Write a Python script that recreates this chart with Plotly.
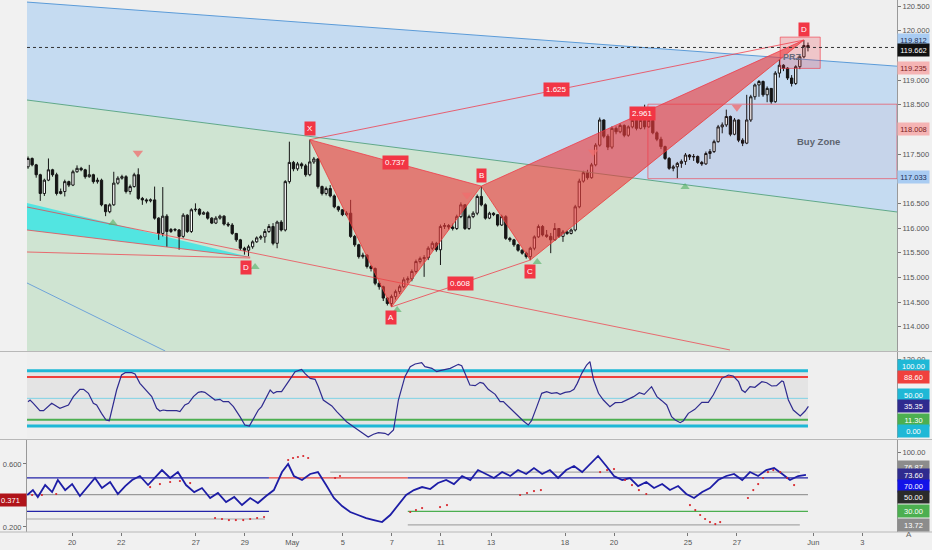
import plotly.graph_objects as go

# ---------------- price data (4h bars) ----------------
first_open = 117.24
close = [117.41,117.28,117.08,116.70,116.97,117.18,117.08,116.70,116.74,116.94,
         116.87,117.14,117.21,117.18,117.04,117.08,116.94,116.97,116.47,116.33,
         116.47,116.91,117.01,117.04,116.74,116.84,117.08,116.60,116.57,116.55,
         116.57,116.20,115.89,116.24,115.93,115.97,115.96,115.83,116.26,115.93,
         116.37,116.38,116.28,116.31,116.20,116.10,116.20,116.24,116.08,116.06,
         115.89,115.76,115.59,115.55,115.62,115.72,115.80,115.82,115.93,116.03,
         115.69,116.12,115.96,116.94,117.33,117.20,117.30,117.26,117.08,117.34,
         117.40,116.84,116.70,116.80,116.65,116.43,116.37,116.27,116.30,115.83,
         115.66,115.42,115.45,115.22,115.18,114.88,114.81,114.58,114.47,114.61,
         114.71,114.81,114.95,114.97,115.12,115.32,115.38,115.40,115.59,115.69,
         115.56,116.03,116.05,116.02,115.99,116.23,116.47,115.99,116.23,116.30,
         116.64,116.47,116.20,116.30,116.27,116.06,116.23,115.79,115.76,115.66,
         115.55,115.49,115.42,115.59,115.82,116.03,115.86,115.83,115.76,115.99,
         115.83,115.92,115.89,115.96,116.43,116.95,117.12,117.02,117.28,117.68,
         118.19,117.86,117.64,118.02,117.95,118.08,117.88,118.05,118.18,118.02,
         118.18,118.05,118.18,117.93,117.80,117.65,117.41,117.21,117.24,117.31,
         117.35,117.48,117.44,117.45,117.33,117.30,117.51,117.55,117.75,118.05,
         118.09,118.26,117.90,118.19,117.78,117.72,118.19,118.66,118.90,118.97,
         118.70,118.83,118.56,119.14,119.30,119.24,119.04,118.93,119.27,119.47,
         119.70,119.66]
high = [117.45,117.43,117.30,117.10,117.00,117.41,117.20,117.12,116.80,116.98,
        116.96,117.18,117.27,117.24,117.20,117.28,117.10,117.02,117.00,116.48,
        116.50,117.14,117.05,117.08,117.07,116.88,117.12,117.21,116.63,116.60,
        116.60,116.84,116.22,116.83,116.28,116.00,116.00,115.98,116.30,116.28,
        116.40,116.50,116.40,116.34,116.34,116.22,116.24,116.27,116.26,116.12,
        116.10,115.90,115.78,115.62,115.66,115.75,115.83,115.86,115.98,116.08,
        116.10,116.15,116.16,116.97,117.75,117.36,117.34,117.33,117.30,117.79,
        117.44,117.42,116.86,116.84,116.87,116.68,116.45,116.38,116.34,116.57,
        115.86,115.68,115.50,115.47,115.25,115.20,114.92,114.83,114.60,114.65,
        114.75,114.85,115.00,115.02,115.16,115.36,115.42,115.45,115.63,115.73,
        115.72,116.07,116.10,116.08,116.09,116.27,116.52,116.48,116.27,116.34,
        116.68,116.85,116.50,116.33,116.32,116.28,116.27,116.26,115.82,115.78,
        115.68,115.57,115.52,115.62,115.85,116.07,116.06,115.96,115.90,116.10,
        116.00,115.96,115.95,115.99,116.47,117.00,117.16,117.18,117.32,117.72,
        118.24,118.20,117.90,118.06,118.06,118.12,118.10,118.08,118.22,118.20,
        118.24,118.50,118.22,118.20,117.96,117.85,117.67,117.44,117.28,117.34,
        117.39,117.52,117.50,117.50,117.47,117.36,117.55,117.60,117.79,118.09,
        118.14,118.40,118.28,118.23,118.20,117.82,118.70,118.70,118.93,119.00,
        118.99,118.87,118.80,119.18,119.42,119.32,119.26,119.10,119.30,119.50,
        119.81,119.76]
low = [117.20,117.25,117.02,116.55,116.65,116.95,117.04,116.66,116.68,116.64,
       116.83,116.85,117.12,117.15,117.00,117.02,116.90,116.90,116.44,116.24,
       116.30,116.45,116.88,116.98,116.70,116.68,116.82,116.57,116.47,116.50,
       116.52,116.17,115.76,115.83,115.62,115.90,115.93,115.56,115.80,115.90,
       115.90,116.33,116.25,116.27,116.17,116.08,116.08,116.17,116.05,116.02,
       115.86,115.72,115.55,115.46,115.43,115.58,115.70,115.76,115.70,115.90,
       115.65,115.59,115.93,115.93,116.90,117.15,117.16,117.20,117.04,117.05,
       117.30,116.80,116.66,116.66,116.62,116.40,116.33,116.24,116.24,115.80,
       115.62,115.38,115.38,115.18,115.12,114.84,114.75,114.52,114.43,114.40,
       114.55,114.66,114.78,114.88,114.92,115.08,115.28,115.01,115.35,115.55,
       115.52,115.25,115.98,115.97,115.95,115.96,116.20,115.96,115.96,116.20,
       116.26,116.44,116.17,116.18,116.24,116.03,116.04,115.76,115.72,115.62,
       115.52,115.46,115.38,115.35,115.55,115.80,115.83,115.80,115.49,115.74,
       115.80,115.72,115.86,115.87,115.93,116.40,116.92,116.98,117.00,117.25,
       117.65,117.82,117.58,117.60,117.90,117.92,117.84,117.85,118.02,117.98,
       118.00,118.00,118.03,117.90,117.76,117.60,117.38,117.18,117.15,117.01,
       117.22,117.28,117.38,117.36,117.30,117.26,117.28,117.40,117.52,117.73,
       117.92,118.05,117.86,117.88,117.74,117.66,117.70,118.15,118.60,118.66,
       118.66,118.55,118.52,118.54,119.05,119.18,119.00,118.87,118.90,119.22,
       119.44,119.58]
bars = list(range(len(close)))
opens = [first_open] + close[:-1]

# ---------------- harmonic pattern ----------------
pt_name = ['X', 'A', 'B', 'C', 'D']
pt_bar = [69, 89, 111, 123, 190]
pt_price = [117.79, 114.40, 116.85, 115.35, 119.81]
ratio_legs = [('X', 'B', '0.737'), ('A', 'C', '0.608'), ('X', 'D', '1.625'), ('B', 'D', '2.961')]

# earlier pattern (left)
old_d_bar, old_d_price = 54.4, 115.41
cyan_bar = [-0.25, 54.4, -0.25]
cyan_price = [116.507, 115.41, 115.96]

# channels (bar, price endpoints)
chan_up_bar, chan_up_price = [-0.25, 212.8], [120.58, 119.28]
chan_mid_bar, chan_mid_price = [-0.25, 212.8], [118.595, 116.325]
chan_low_bar, chan_low_price = [-0.25, 33.6], [114.886, 113.507]
trend_bar, trend_price = [-0.25, 171.9], [116.426, 113.528]
flat_bar, flat_price = [-0.25, 54.4], [115.514, 115.392]

# zones
prz_bar, prz_price = [184.2, 194.0], [119.235, 119.87]
buy_bar, buy_price = [151.8, 212.8], [117.00, 118.51]

# signal markers
dn_bar = [26.9, 107.5, 138.4, 173.6]
dn_price = [117.52, 116.67, 117.54, 118.45]
up_bar = [20.8, 55.6, 90.4, 124.7, 160.9]
up_price = [116.10, 115.21, 114.34, 115.31, 116.83]

# axis labels
tick_pos = [10.8, 22.8, 41.1, 53.1, 64.7, 77.1, 89.1, 101.1, 113.4, 131.5, 143.5, 161.6, 173.6, 192.3, 204.3]
tick_txt = ['20', '22', '27', '29', 'May', '5', '7', '11', '13', '18', '20', '25', '27', 'Jun', '3']
price_ticks = [114.0, 114.5, 115.0, 115.5, 116.0, 116.5, 117.5, 118.5, 119.0, 120.0, 120.5]

# ---------------- oscillator 1 ----------------
rsi_bar = [0, 0.5, 1.3, 2.9, 3.8, 5.8, 7.8, 9.1, 9.9, 11.1, 12.7, 13.6, 14.8, 16, 16.8, 18, 19.1, 19.9,
           20.9, 21.7, 22.9, 23.8, 25.4, 26.2, 27.4, 29.1, 30.3, 31.5, 32.3, 33.1, 34, 35.6, 36.4, 37.2,
           38.4, 39.3, 40.5, 41.7, 42.5, 43.3, 44.6, 45.8, 47, 47.8, 49.1, 50.3, 51.9, 53.1, 54.2, 55.2,
           56.4, 57.2, 58.4, 59.3, 60.1, 60.9, 62.1, 63.3, 64.6, 65.4, 67, 67.8, 69.1, 70.3, 71.1, 72.3,
           73.6, 74.4, 75.6, 76.8, 78, 79.7, 81.3, 83.3, 84.6, 85.8, 87.4, 88.2, 89.5, 90.7, 91.5, 92.3,
           93.6, 94.8, 96.4, 97.2, 98.9, 100.1, 100.9, 103.4, 105.4, 106.2, 107, 108.2, 109.5, 110.7,
           111.5, 112.7, 114.4, 115.6, 116.4, 118, 119.7, 121.3, 122.5, 123.3, 124.6, 125.8, 127, 128.2,
           129.5, 130.3, 131.5, 132.7, 133.7, 134.5, 135.6, 136.8, 137.6, 138.5, 139.7, 140.9, 142.5,
           143.8, 145.4, 146.6, 148.3, 149.7, 150.9, 152.7, 154, 155.2, 156.4, 157.6, 158.5, 159.7, 160.5,
           161.7, 163.3, 165, 166.6, 167.8, 169.9, 171.5, 172.7, 174, 174.8, 175.6, 176.8, 178, 179.7,
           180.9, 182.1, 183.3, 184.6, 185, 186.2, 187.4, 188.7, 189.1, 190.3, 191.1]
rsi_val = [44, 47, 41, 27.7, 27.7, 41, 32, 36.2, 38, 53.1, 66.3, 66.3, 59.1, 41, 38, 22.9, 10.9, 9.6,
           41, 65.1, 92.2, 96.4, 96.4, 94, 77.1, 62.1, 53.1, 32, 27.1, 28.9, 27.7, 27.7, 27.7, 25.9,
           38, 41, 53.1, 60.9, 62.1, 60.9, 53.1, 47, 48.2, 44, 44, 35, 16.9, 1.8, 0, 13.9,
           28.9, 35, 53.1, 65.1, 59.1, 62.1, 62.1, 74.1, 89.2, 98.2, 102.4, 95.2, 86.2, 84.4, 71.1, 47,
           39.8, 36.2, 25.9, 16.9, 7.8, -1.2, -10.2, -20, -15, -12, -13.2, -16.2, -7.2, 47, 68.1, 89.2,
           107.3, 112.1, 114.5, 107.3, 104.3, 98.2, 100, 104.3, 111.5, 109.1, 95.2, 74.1, 72.9, 79,
           77.1, 66.3, 57.3, 44, 44, 32, 19.9, 9, 1.8, 9.6, 35, 59.1, 62.1, 59.1,
           60.3, 57.3, 60.9, 62.1, 66.3, 77.1, 95.2, 110.3, 116.3, 83.1, 59.1, 47, 35,
           42.2, 42.8, 47, 53.1, 60.3, 57.3, 71.1, 53.1, 45.8, 38, 16.9, 10.9, 6, 9.6,
           22.9, 30.1, 42.8, 42.8, 56.1, 86.2, 92.2, 90.4, 80.1, 65.1, 60.9, 71.1, 69.9, 80.1,
           78.3, 72.3, 72.9, 81.4, 80.1, 47, 28.9, 19.9, 18.1, 27.1, 35.35]
rsi_levels = [100, 88.6, 50, 11.3, 0]

# ---------------- oscillator 2 ----------------
osc_bar = [-0.2, 1.2, 2.4, 4.2, 5.9, 7.3, 9.1, 10.8, 12.7, 14.7, 16.4, 18.1, 20.1, 22.0, 23.8, 25.5,
           27.4, 29.4, 31.1, 32.8, 34.8, 36.7, 38.7, 40.7, 42.6, 44.6, 46.5, 48.5, 50.5, 52.4, 54.4,
           56.3, 58.3, 60.2, 62.2, 63.7, 65.1, 67.1, 69.1, 71.0, 73.0, 74.9, 76.9, 78.9, 80.8, 82.8,
           84.7, 86.7, 88.7, 90.6, 92.6, 94.5, 96.5, 98.5, 100.4, 102.4, 104.3, 106.3, 108.3, 110.2,
           112.2, 114.1, 116.1, 118.1, 120.0, 122.0, 123.9, 125.9, 127.8, 129.8, 131.8, 133.7, 135.7,
           137.6, 139.6, 141.6, 143.5, 145.5, 147.4, 149.4, 151.4, 153.3, 155.3, 157.2, 159.2, 161.2,
           163.1, 165.1, 167.0, 169.0, 171.0, 172.9, 174.9, 176.8, 178.8, 180.8, 182.7, 184.7, 186.6,
           188.6, 190.5]
osc_val = [49.5, 55.4, 47.1, 61.4, 53.0, 67.4, 55.4, 62.6, 48.3, 60.2, 69.8, 57.8, 65.0, 50.7, 60.2,
           67.4, 72.2, 61.4, 69.8, 79.3, 69.8, 76.9, 61.4, 53.0, 57.8, 45.9, 51.9, 41.1, 47.1, 37.5,
           45.9, 39.9, 48.3, 55.4, 76.9, 86.5, 72.2, 67.4, 74.6, 76.9, 61.4, 45.9, 36.3, 29.2, 25.6,
           22.0, 19.6, 17.2, 25.6, 37.5, 49.5, 55.4, 59.0, 56.6, 63.8, 67.4, 62.6, 72.2, 67.4, 79.3,
           74.6, 69.8, 76.9, 72.2, 79.3, 74.6, 81.7, 74.6, 79.3, 69.8, 79.3, 84.1, 76.9, 86.5, 96.1,
           84.1, 72.2, 67.4, 69.8, 60.2, 65.0, 57.8, 62.6, 55.4, 60.2, 50.7, 45.9, 53.0, 57.8, 67.4,
           72.2, 74.6, 67.4, 76.9, 72.2, 79.3, 81.7, 74.6, 67.4, 72.2, 73.6]
dot_bar = [1.0, 3.4, 6.9, 29.9, 32.3, 34.8, 37.2, 39.7, 45.8, 47.5, 49.2, 50.9, 52.7, 54.4, 56.1, 57.8,
           63.7, 64.9, 66.1, 67.4, 68.6, 75.2, 76.4, 93.6, 95.0, 96.5, 100.9, 102.6, 120.5, 122.2, 123.9,
           125.6, 140.1, 141.8, 143.5, 146.2, 147.9, 149.6, 151.4, 162.1, 163.4, 164.6, 165.8, 167.0,
           168.3, 169.5, 176.3, 177.6, 178.8, 180.0, 181.2, 182.5, 184.2, 185.9, 187.6]
dot_val = [49.5, 49.5, 50.7, 59.0, 62.6, 65.0, 66.2, 63.8, 22.0, 20.8, 19.6, 19.6, 19.6, 20.8, 22.0, 23.2,
           91.3, 93.7, 94.9, 96.1, 93.7, 69.8, 72.2, 29.2, 31.5, 33.9, 35.1, 37.5, 49.5, 51.9, 54.2,
           55.4, 76.9, 79.3, 80.5, 67.4, 61.4, 55.4, 50.7, 37.5, 31.5, 25.6, 20.8, 17.2,
           14.8, 17.2, 45.9, 55.4, 62.6, 69.8, 76.9, 79.3, 76.9, 69.8, 61.4]
# level segments: (start bar, end bar, value, colour)
osc_segments = [(-0.25, 59, 70, '#2323a8'), (59, 93, 70, '#e8413c'), (93, 191, 70, '#2323a8'),
                (-0.25, 59, 30, '#2323a8'), (93, 191, 30, '#4caf50'), (-0.25, 191, 50, '#9a9a9a'),
                (-0.25, 58, 20.8, '#a8a8a8'), (74, 189, 76.87, '#a8a8a8'), (93, 189, 13.72, '#a8a8a8')]

# ---------------- figure ----------------
XD = [27 / 932, 897 / 932]
MAIN = [1 - 351 / 550, 1]
P2 = [1 - 438 / 550, 1 - 352 / 550]
P3 = [1 - 532 / 550, 1 - 440 / 550]
RED = 'rgba(242,54,69,1)'
FONT = 'Liberation Sans'

fig = go.Figure()
shapes = []


def poly(xs, ys):
    return 'M ' + ' L '.join(f'{x},{y}' for x, y in zip(xs, ys)) + ' Z'


# background bands
shapes.append(dict(type='path', xref='x', yref='y', layer='below', line=dict(width=0),
                   fillcolor='#c5dbf1',
                   path=poly(chan_up_bar + chan_mid_bar[::-1], chan_up_price + chan_mid_price[::-1])))
shapes.append(dict(type='path', xref='x', yref='y', layer='below', line=dict(width=0),
                   fillcolor='#cfe4d2',
                   path=poly(chan_mid_bar + chan_mid_bar[::-1], chan_mid_price + [113.0, 113.0])))
shapes.append(dict(type='path', xref='x', yref='y', layer='below', line=dict(width=0),
                   fillcolor='rgba(40,230,230,0.75)', path=poly(cyan_bar, cyan_price)))

fig.add_trace(go.Scatter(x=chan_up_bar, y=chan_up_price, mode='lines',
                         line=dict(color='#5b9bd8', width=1), hoverinfo='skip'))
fig.add_trace(go.Scatter(x=chan_mid_bar, y=chan_mid_price, mode='lines',
                         line=dict(color='#5fa88a', width=1), hoverinfo='skip'))
fig.add_trace(go.Scatter(x=chan_low_bar, y=chan_low_price, mode='lines',
                         line=dict(color='#6fa3d8', width=1), hoverinfo='skip'))

# candles
fig.add_trace(go.Candlestick(x=bars, open=opens, high=high, low=low, close=close,
                             increasing=dict(line=dict(color='#151515', width=1), fillcolor='#ffffff'),
                             decreasing=dict(line=dict(color='#151515', width=1), fillcolor='#151515'),
                             whiskerwidth=0, hoverinfo='skip'))

# trend / old pattern lines
fig.add_trace(go.Scatter(x=trend_bar, y=trend_price, mode='lines',
                         line=dict(color='rgba(242,54,69,0.7)', width=1), hoverinfo='skip'))
fig.add_trace(go.Scatter(x=flat_bar, y=flat_price, mode='lines',
                         line=dict(color='rgba(242,54,69,0.7)', width=1), hoverinfo='skip'))
fig.add_trace(go.Scatter(x=[cyan_bar[2], cyan_bar[1]], y=[cyan_price[2], cyan_price[1]], mode='lines',
                         line=dict(color='rgba(242,54,69,0.7)', width=1), hoverinfo='skip'))

P = {n: (b, p) for n, b, p in zip(pt_name, pt_bar, pt_price)}
for tri in (('X', 'A', 'B'), ('B', 'C', 'D')):
    fig.add_trace(go.Scatter(x=[P[k][0] for k in tri], y=[P[k][1] for k in tri], mode='lines',
                             fill='toself', fillcolor='rgba(235,60,60,0.62)',
                             line=dict(color='rgba(235,60,60,0.8)', width=1), hoverinfo='skip'))
for a, b, _ in ratio_legs:
    fig.add_trace(go.Scatter(x=[P[a][0], P[b][0]], y=[P[a][1], P[b][1]], mode='lines',
                             line=dict(color='rgba(242,54,69,0.75)', width=1), hoverinfo='skip'))

fig.add_trace(go.Scatter(x=dn_bar, y=dn_price, mode='markers',
                         marker=dict(symbol='triangle-down', size=9, color='rgba(240,110,110,0.75)'),
                         hoverinfo='skip'))
fig.add_trace(go.Scatter(x=up_bar, y=up_price, mode='markers',
                         marker=dict(symbol='triangle-up', size=8, color='rgba(80,175,100,0.6)'),
                         hoverinfo='skip'))

# zones
shapes.append(dict(type='rect', xref='x', yref='y', x0=prz_bar[0], x1=prz_bar[1], y0=prz_price[0],
                   y1=prz_price[1], fillcolor='rgba(242,54,69,0.22)', line=dict(color='rgba(242,54,69,0.6)', width=1)))
shapes.append(dict(type='rect', xref='x', yref='y', x0=buy_bar[0], x1=buy_bar[1], y0=buy_price[0],
                   y1=buy_price[1], fillcolor='rgba(242,54,69,0.04)', line=dict(color='rgba(242,54,69,0.6)', width=1)))
# current price dotted line
shapes.append(dict(type='line', xref='x', yref='y', x0=-0.25, x1=212.8, y0=close[-1], y1=close[-1],
                   line=dict(color='#333', width=1, dash='dot')))

ann = []
for n, b, p in zip(pt_name, pt_bar, pt_price):
    up = n in ('X', 'B', 'D')
    ann.append(dict(x=b, y=p, xref='x', yref='y', text=n, showarrow=False, yshift=11 if up else -11,
                    bgcolor=RED, font=dict(color='white', size=8, family=FONT), borderpad=2))
ann.append(dict(x=old_d_bar - 1, y=old_d_price, xref='x', yref='y', text='D', showarrow=False, yshift=-10,
                bgcolor=RED, font=dict(color='white', size=8, family=FONT), borderpad=2))
for a, b, t in ratio_legs:
    ann.append(dict(x=(P[a][0] + P[b][0]) / 2, y=(P[a][1] + P[b][1]) / 2, xref='x', yref='y', text=t,
                    showarrow=False, bgcolor=RED, font=dict(color='white', size=8, family=FONT), borderpad=2))
ann.append(dict(x=193.5, y=117.744, xref='x', yref='y', text='<b>Buy Zone</b>', showarrow=False,
                font=dict(color='#5d6470', size=9.5, family=FONT)))
ann.append(dict(x=187.1, y=119.467, xref='x', yref='y', text='<b>PRZ</b>', showarrow=False,
                font=dict(color='#6b6b7a', size=9, family=FONT)))


# axis value labels
def axlabel(v, txt, bg, fg, yref, shift=0, left=False):
    ann.append(dict(xref='paper', x=XD[0] if left else XD[1], xanchor='right' if left else 'left',
                    yref=yref, y=v, yshift=shift, text=txt, showarrow=False, bgcolor=bg,
                    font=dict(color=fg, size=7.5, family=FONT), borderpad=1.5, width=28, align='center'))


axlabel(119.812, '119.812', '#a9ccf2', '#1c2f57', 'y')
axlabel(119.662, '119.662', '#111111', '#ffffff', 'y', -3)
axlabel(119.235, '119.235', '#f5b4b4', '#7a1c1c', 'y')
axlabel(118.008, '118.008', '#f5b4b4', '#7a1c1c', 'y')
axlabel(117.033, '117.033', '#a9ccf2', '#1c2f57', 'y')

# oscillator 1 pane
shapes.append(dict(type='rect', xref='x', yref='y2', x0=-0.25, x1=191, y0=0, y1=100,
                   fillcolor='#e4e4e4', line=dict(width=0), layer='below'))
lvl_style = [('#1fb8d6', 3), ('#f0413d', 2), ('#7fd3e6', 1), ('#4caf50', 2), ('#1fb8d6', 3)]
for v, (c, w) in zip(rsi_levels, lvl_style):
    fig.add_trace(go.Scatter(x=[-0.25, 191], y=[v, v], mode='lines', line=dict(color=c, width=w),
                             xaxis='x2', yaxis='y2', hoverinfo='skip'))
fig.add_trace(go.Scatter(x=rsi_bar, y=rsi_val, mode='lines', line=dict(color='#2f2b8f', width=1.2),
                         xaxis='x2', yaxis='y2', hoverinfo='skip'))
axlabel(100, '100.00', '#1fb8d6', '#ffffff', 'y2', 5)
axlabel(88.6, '88.60', '#f0413d', '#ffffff', 'y2')
axlabel(50, '50.00', '#1fb8d6', '#ffffff', 'y2', 3)
axlabel(35.35, '35.35', '#2f2b8f', '#ffffff', 'y2')
axlabel(11.3, '11.30', '#4caf50', '#ffffff', 'y2')
axlabel(0, '0.00', '#1fb8d6', '#ffffff', 'y2', -4.5)

# oscillator 2 pane
for b0, b1, v, c in osc_segments:
    fig.add_trace(go.Scatter(x=[b0, b1], y=[v, v], mode='lines', line=dict(color=c, width=1.2),
                             xaxis='x3', yaxis='y3', hoverinfo='skip'))
fig.add_trace(go.Scatter(x=osc_bar, y=osc_val, mode='lines', line=dict(color='#1d1da6', width=1.8),
                         xaxis='x3', yaxis='y3', hoverinfo='skip'))
fig.add_trace(go.Scatter(x=dot_bar, y=dot_val, mode='markers', marker=dict(color='#d8262c', size=2.2),
                         xaxis='x3', yaxis='y3', hoverinfo='skip'))
axlabel(76.87, '76.87', '#8c8c8c', '#ffffff', 'y3', 5)
axlabel(73.6, '73.60', '#2f2b8f', '#ffffff', 'y3')
axlabel(70, '70.00', '#1212e8', '#ffffff', 'y3', -8)
axlabel(50, '50.00', '#2b2b2b', '#ffffff', 'y3', -2)
axlabel(30, '30.00', '#4caf50', '#ffffff', 'y3')
axlabel(13.72, '13.72', '#8c8c8c', '#ffffff', 'y3')
axlabel(0.371, '0.371', '#b0141a', '#ffffff', 'y4', 0, left=True)

ann.append(dict(xref='paper', yref='paper', x=914 / 932, y=1 - 541 / 550, text='A', showarrow=False,
                font=dict(color='#666', size=8, family=FONT)))

# pane separators
for yy in (351.5, 439.5, 532):
    shapes.append(dict(type='line', xref='paper', yref='paper', x0=0, x1=1, y0=1 - yy / 550, y1=1 - yy / 550,
                       line=dict(color='#b8b8b8', width=1)))

axis_common = dict(showgrid=False, zeroline=False)
tf = dict(size=7.5, color='#555', family=FONT)
fig.update_layout(
    width=932, height=550, margin=dict(l=0, r=0, t=0, b=0), boxgap=0.2,
    paper_bgcolor='#f1f1f1', plot_bgcolor='#efefef', showlegend=False,
    shapes=shapes, annotations=ann,
    xaxis=dict(domain=XD, range=[-0.25, 212.8], showticklabels=False, rangeslider=dict(visible=False),
               anchor='y', **axis_common),
    xaxis2=dict(domain=XD, range=[-0.25, 212.8], showticklabels=False, anchor='y2', matches='x', **axis_common),
    xaxis3=dict(domain=XD, range=[-0.25, 212.8], anchor='y3', matches='x', tickvals=tick_pos, ticktext=tick_txt,
                ticks='outside', ticklen=3, tickcolor='#777', tickfont=tf, **axis_common),
    yaxis=dict(domain=MAIN, range=[113.507, 120.622], side='right', anchor='x', tickvals=price_ticks,
               ticktext=[f'{v:.3f}' for v in price_ticks], ticks='outside', ticklen=3, tickcolor='#777',
               tickfont=tf, showline=True, linecolor='#999', linewidth=1, **axis_common),
    yaxis2=dict(domain=P2, range=[-21.7, 133.8], side='right', anchor='x2', tickvals=[120],
                ticktext=['120.00'], ticks='outside', ticklen=3, tickcolor='#777', tickfont=tf,
                showline=True, linecolor='#999', linewidth=1, **axis_common),
    yaxis3=dict(domain=P3, range=[5.3, 115.2], side='right', anchor='x3', tickvals=[100],
                ticktext=['100.00'], ticks='outside', ticklen=3, tickcolor='#777', tickfont=tf,
                showline=True, linecolor='#999', linewidth=1, **axis_common),
    yaxis4=dict(range=[0.168, 0.7524], side='left', overlaying='y3', anchor='x3', tickvals=[0.2, 0.6],
                ticktext=['0.200', '0.600'], ticks='outside', ticklen=3, tickcolor='#777', tickfont=tf,
                showline=True, linecolor='#999', linewidth=1, **axis_common),
)
fig.write_html('out.html', config={'displayModeBar': False},
               post_script="document.body.style.margin='0';document.body.style.overflow='hidden';")
